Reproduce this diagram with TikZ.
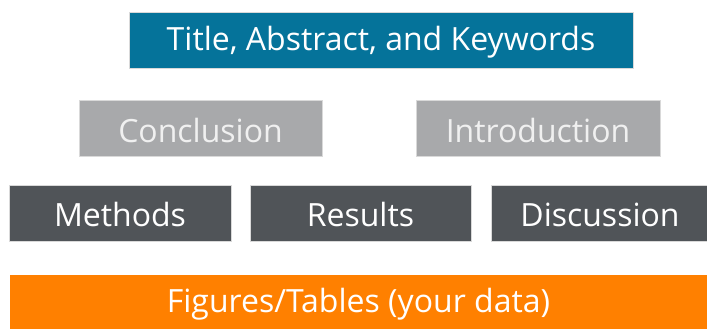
\documentclass[tikz,border=0pt]{standalone}
\usepackage{fontspec}
\setmainfont{Open Sans}
\definecolor{teal1}{HTML}{05739A}
\definecolor{lgray}{HTML}{A8A9AB}
\definecolor{dgray}{HTML}{505458}
\definecolor{orng}{HTML}{FF8000}
\tikzset{
  blk/.style={rectangle, inner sep=0pt, minimum height=56pt, text height=26pt, text depth=4pt,
    font=\fontsize{32}{36}\selectfont, text=white, draw=white!85!black, line width=0.5pt},
  row2/.style={text height=30pt, text depth=2pt},
  row3/.style={text height=29pt, text depth=2pt},
}
\begin{document}
\begin{tikzpicture}[x=1pt,y=-1pt]
\useasboundingbox[fill=white] (0,0) rectangle (707,329);
\node[blk, fill=teal1, minimum width=504pt] (title) at (381,40) {Title, Abstract, and Keywords};
\node[blk, row2, fill=lgray, minimum width=243pt, text=white!94!black] (concl) at (200.5,128) {Conclusion};
\node[blk, row2, fill=lgray, minimum width=244pt, text=white!94!black] (intro) at (538,128) {Introduction};
\node[blk, row3, fill=dgray, minimum width=222pt] (meth) at (120,213) {Methods};
\node[blk, row3, fill=dgray, minimum width=221pt] (res) at (360.5,213) {Results};
\node[blk, row3, fill=dgray, minimum width=218pt] (disc) at (600,213) {Discussion};
\node[blk, fill=orng, draw=none, minimum width=697pt, minimum height=54pt, text height=24pt, text depth=4pt] (fig) at (358.5,302) {Figures/Tables (your data)};
\end{tikzpicture}
\end{document}
